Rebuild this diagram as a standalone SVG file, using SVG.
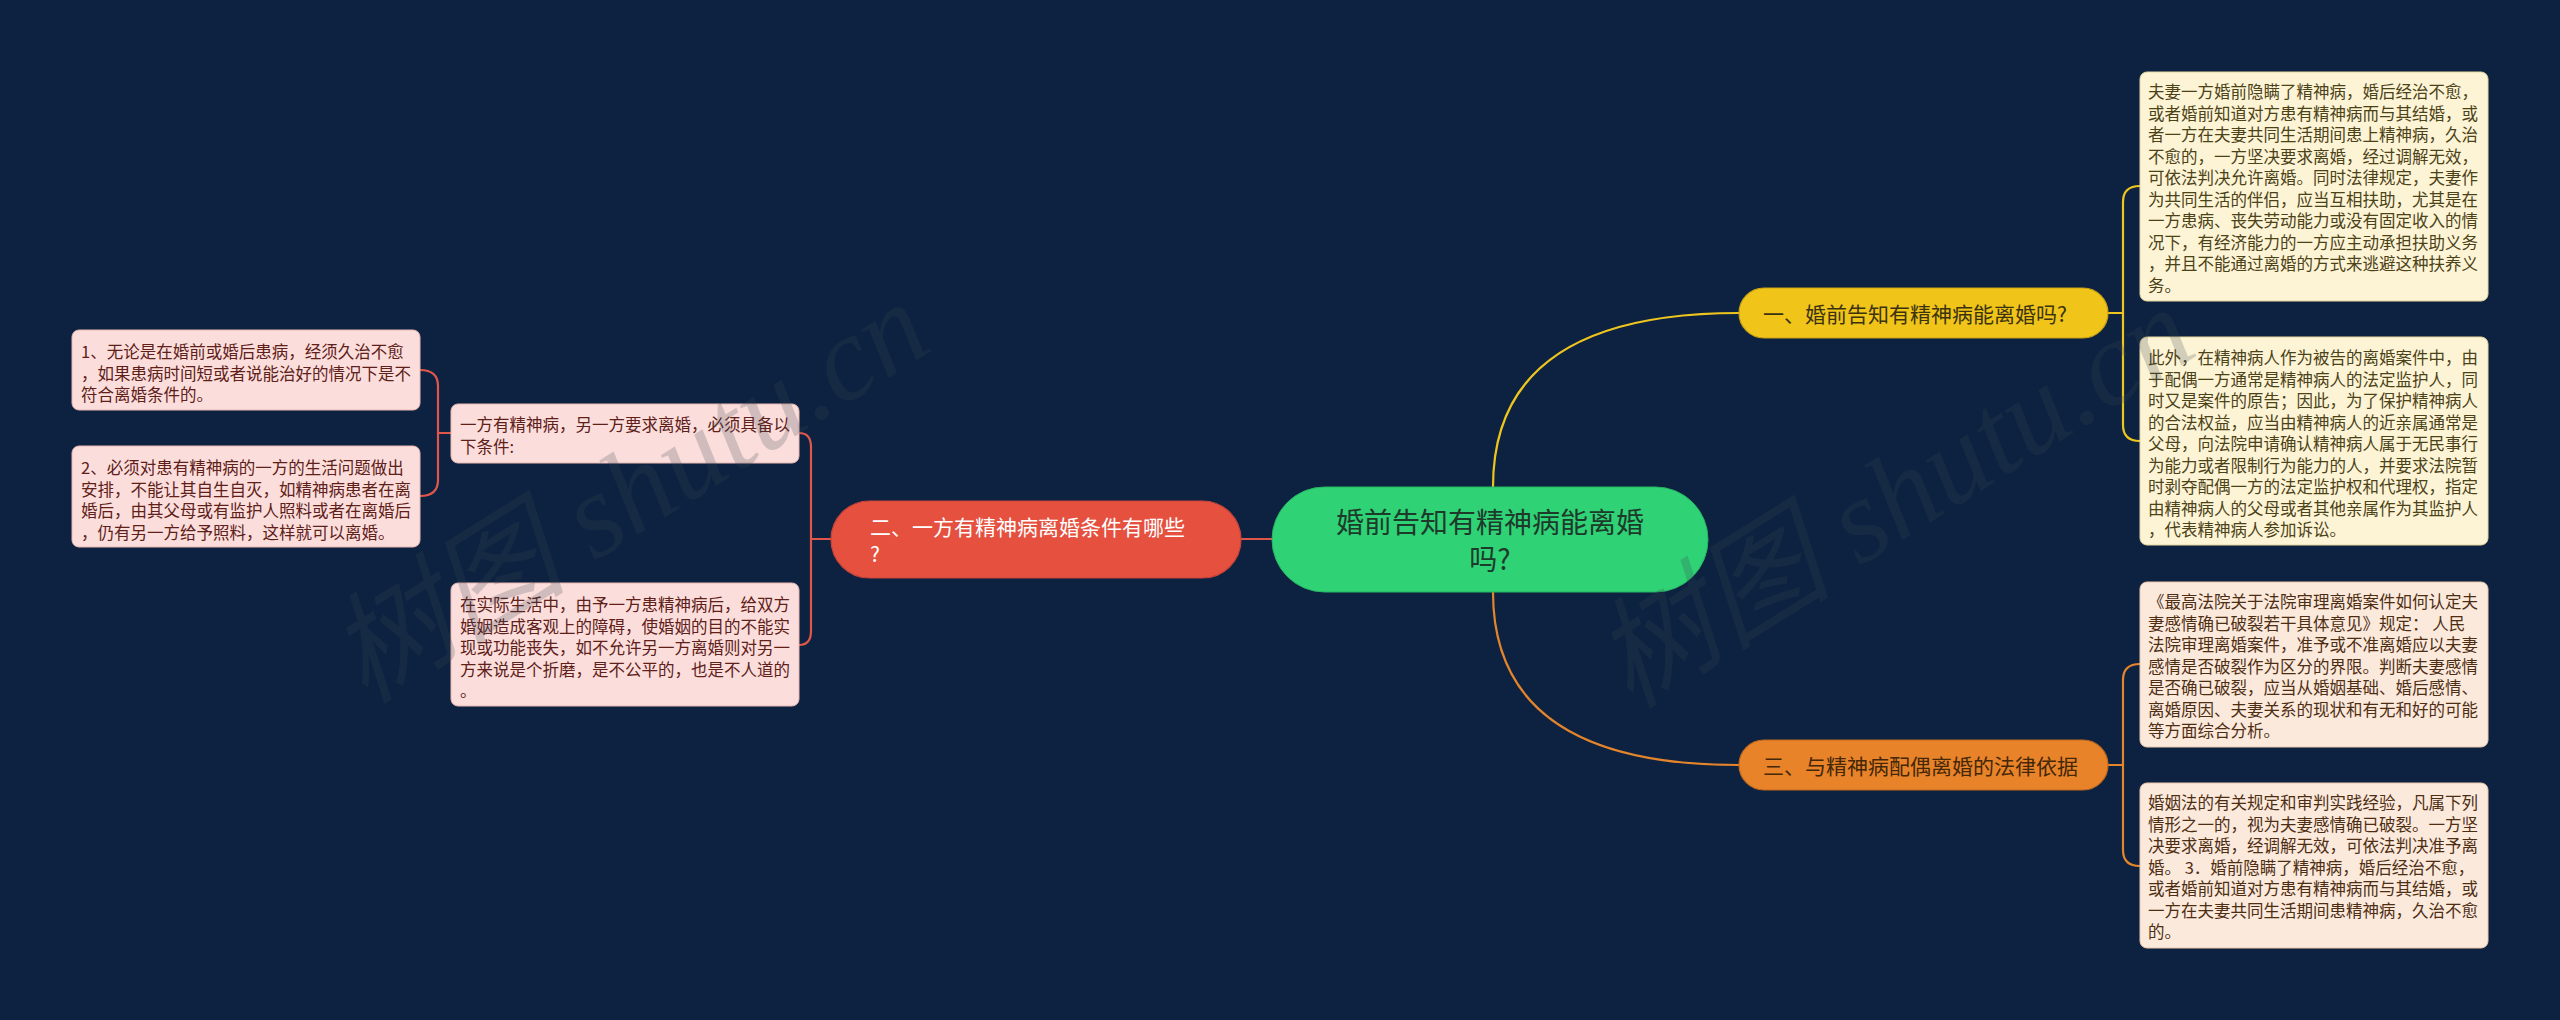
<svg xmlns="http://www.w3.org/2000/svg" width="2560" height="1020" viewBox="0 0 2560 1020">
<style>
text{font-family:"Noto Sans CJK SC","Noto Sans",sans-serif;}
.box{font-size:16.5px;}
.pink rect{fill:#fbdedb;stroke:#e9b8b2;stroke-width:1;}
.pink text{fill:#5e2019;}
.cream rect{fill:#fdf4d5;stroke:#e6d79d;stroke-width:1;}
.cream text{fill:#4b4218;}
.peach rect{fill:#fbe9dc;stroke:#ebc9ad;stroke-width:1;}
.peach text{fill:#4e2e13;}
.br{font-size:21px;}
.conn path{fill:none;stroke-width:2.2;stroke-linecap:round;}
.cy{stroke:#eec51e;}
.co{stroke:#e4852c;}
.cr{stroke:#df574a;}
.wm{font-family:"Liberation Serif","Noto Sans CJK SC",serif;font-style:italic;font-size:120px;fill:#3c4654;opacity:0.22;}
</style>
<rect x="0" y="0" width="2560" height="1020" fill="#0d2240"/>

<g id="connectors" class="conn">
  <path class="cy" d="M1493,487 Q1493,313 1739,313"/>
  <path class="co" d="M1493,592 Q1493,765 1739,765"/>
  <path class="cr" d="M1272,539 H1241"/>
  <path class="cy" d="M2108,313 H2123"/>
  <path class="cy" d="M2140,186 Q2123,186 2123,202 V425 Q2123,441 2140,441"/>
  <path class="co" d="M2108,765 H2123"/>
  <path class="co" d="M2140,664 Q2123,664 2123,680 V850 Q2123,866 2140,866"/>
  <path class="cr" d="M831,539 H811"/>
  <path class="cr" d="M799,433 Q811,433 811,447 V631 Q811,645 799,645"/>
  <path class="cr" d="M451,433 H438"/>
  <path class="cr" d="M420,370 Q438,370 438,386 V480 Q438,496 420,496"/>
</g>

<g id="root">
  <rect x="1272" y="487" width="436" height="105" rx="52.5" fill="#2fd275" stroke="#27b563" stroke-width="1"/>
  <text x="1490" y="533" font-size="28" fill="#1d3a2b" text-anchor="middle">婚前告知有精神病能离婚</text>
  <text x="1490" y="570" font-size="28" fill="#1d3a2b" text-anchor="middle">吗?</text>
</g>

<g id="branch1">
  <rect x="1739" y="288" width="369" height="50" rx="25" fill="#f0c419" stroke="#c9a214" stroke-width="1.2"/>
  <text class="br" x="1763" y="322" fill="#3b3310">一、婚前告知有精神病能离婚吗?</text>
</g>

<g id="branch3">
  <rect x="1739" y="740" width="369" height="50" rx="25" fill="#e8832a" stroke="#c06a1f" stroke-width="1.2"/>
  <text class="br" x="1763" y="774" fill="#452709">三、与精神病配偶离婚的法律依据</text>
</g>

<g id="branch2">
  <rect x="831" y="501" width="410" height="77" rx="38.5" fill="#e5503f" stroke="#c9443a" stroke-width="1.2"/>
  <text class="br" x="870" y="535" fill="#ffffff">二、一方有精神病离婚条件有哪些</text>
  <text class="br" x="870" y="562" fill="#ffffff">?</text>
</g>

<g id="r1" class="cream">
  <rect x="2140" y="72" width="348" height="229" rx="7"/>
  <text class="box">
    <tspan x="2148" y="98">夫妻一方婚前隐瞒了精神病，婚后经治不愈，</tspan>
    <tspan x="2148" y="119.5">或者婚前知道对方患有精神病而与其结婚，或</tspan>
    <tspan x="2148" y="141">者一方在夫妻共同生活期间患上精神病，久治</tspan>
    <tspan x="2148" y="162.5">不愈的，一方坚决要求离婚，经过调解无效，</tspan>
    <tspan x="2148" y="184">可依法判决允许离婚。同时法律规定，夫妻作</tspan>
    <tspan x="2148" y="205.5">为共同生活的伴侣，应当互相扶助，尤其是在</tspan>
    <tspan x="2148" y="227">一方患病、丧失劳动能力或没有固定收入的情</tspan>
    <tspan x="2148" y="248.5">况下，有经济能力的一方应主动承担扶助义务</tspan>
    <tspan x="2148" y="270">，并且不能通过离婚的方式来逃避这种扶养义</tspan>
    <tspan x="2148" y="291.5">务。</tspan>
  </text>
</g>

<g id="r2" class="cream">
  <rect x="2140" y="337" width="348" height="208" rx="7"/>
  <text class="box">
    <tspan x="2148" y="364">此外，在精神病人作为被告的离婚案件中，由</tspan>
    <tspan x="2148" y="385.5">于配偶一方通常是精神病人的法定监护人，同</tspan>
    <tspan x="2148" y="407">时又是案件的原告；因此，为了保护精神病人</tspan>
    <tspan x="2148" y="428.5">的合法权益，应当由精神病人的近亲属通常是</tspan>
    <tspan x="2148" y="450">父母，向法院申请确认精神病人属于无民事行</tspan>
    <tspan x="2148" y="471.5">为能力或者限制行为能力的人，并要求法院暂</tspan>
    <tspan x="2148" y="493">时剥夺配偶一方的法定监护权和代理权，指定</tspan>
    <tspan x="2148" y="514.5">由精神病人的父母或者其他亲属作为其监护人</tspan>
    <tspan x="2148" y="536">，代表精神病人参加诉讼。</tspan>
  </text>
</g>

<g id="r3" class="peach">
  <rect x="2140" y="582" width="348" height="165" rx="7"/>
  <text class="box">
    <tspan x="2148" y="608">《最高法院关于法院审理离婚案件如何认定夫</tspan>
    <tspan x="2148" y="629.5">妻感情确已破裂若干具体意见》规定： 人民</tspan>
    <tspan x="2148" y="651">法院审理离婚案件，准予或不准离婚应以夫妻</tspan>
    <tspan x="2148" y="672.5">感情是否破裂作为区分的界限。判断夫妻感情</tspan>
    <tspan x="2148" y="694">是否确已破裂，应当从婚姻基础、婚后感情、</tspan>
    <tspan x="2148" y="715.5">离婚原因、夫妻关系的现状和有无和好的可能</tspan>
    <tspan x="2148" y="737">等方面综合分析。</tspan>
  </text>
</g>

<g id="r4" class="peach">
  <rect x="2140" y="783" width="348" height="165" rx="7"/>
  <text class="box">
    <tspan x="2148" y="809">婚姻法的有关规定和审判实践经验，凡属下列</tspan>
    <tspan x="2148" y="830.5">情形之一的，视为夫妻感情确已破裂。一方坚</tspan>
    <tspan x="2148" y="852">决要求离婚，经调解无效，可依法判决准予离</tspan>
    <tspan x="2148" y="873.5">婚。 3．婚前隐瞒了精神病，婚后经治不愈，</tspan>
    <tspan x="2148" y="895">或者婚前知道对方患有精神病而与其结婚，或</tspan>
    <tspan x="2148" y="916.5">一方在夫妻共同生活期间患精神病，久治不愈</tspan>
    <tspan x="2148" y="938">的。</tspan>
  </text>
</g>

<g id="lA" class="pink">
  <rect x="451" y="404" width="348" height="59" rx="7"/>
  <text class="box">
    <tspan x="460" y="431">一方有精神病，另一方要求离婚，必须具备以</tspan>
    <tspan x="460" y="452.5">下条件:</tspan>
  </text>
</g>

<g id="lB" class="pink">
  <rect x="451" y="583" width="348" height="123" rx="7"/>
  <text class="box">
    <tspan x="460" y="611">在实际生活中，由予一方患精神病后，给双方</tspan>
    <tspan x="460" y="632.5">婚姻造成客观上的障碍，使婚姻的目的不能实</tspan>
    <tspan x="460" y="654">现或功能丧失，如不允许另一方离婚则对另一</tspan>
    <tspan x="460" y="675.5">方来说是个折磨，是不公平的，也是不人道的</tspan>
    <tspan x="460" y="697">。</tspan>
  </text>
</g>

<g id="l1" class="pink">
  <rect x="72" y="330" width="348" height="80" rx="7"/>
  <text class="box">
    <tspan x="81" y="358">1、无论是在婚前或婚后患病，经须久治不愈</tspan>
    <tspan x="81" y="379.5">，如果患病时间短或者说能治好的情况下是不</tspan>
    <tspan x="81" y="401">符合离婚条件的。</tspan>
  </text>
</g>

<g id="l2" class="pink">
  <rect x="72" y="446" width="348" height="101" rx="7"/>
  <text class="box">
    <tspan x="81" y="474">2、必须对患有精神病的一方的生活问题做出</tspan>
    <tspan x="81" y="495.5">安排，不能让其自生自灭，如精神病患者在离</tspan>
    <tspan x="81" y="517">婚后，由其父母或有监护人照料或者在离婚后</tspan>
    <tspan x="81" y="538.5">，仍有另一方给予照料，这样就可以离婚。</tspan>
  </text>
</g>

<g id="watermarks">
  <text class="wm" x="365" y="705" transform="rotate(-32 365 705)">树图 shutu.cn</text>
  <text class="wm" x="1630" y="710" transform="rotate(-32 1630 710)">树图 shutu.cn</text>
</g>
</svg>
